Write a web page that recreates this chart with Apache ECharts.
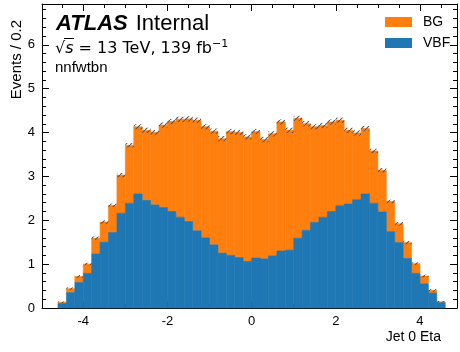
<!DOCTYPE html>
<html>
<head>
<meta charset="utf-8">
<script src="https://cdn.jsdelivr.net/npm/echarts@6/dist/echarts.min.js"></script>
<style>
  html, body { margin: 0; padding: 0; background: #fff; }
  #chart { width: 460px; height: 352px; }
</style>
</head>
<body>
<div id="chart"></div>
<script>
// bin lower edges in eta, each bin 0.2 wide
const binLow = [-4.6, -4.4, -4.2, -4.0, -3.8, -3.6, -3.4, -3.2, -3.0, -2.8,
                -2.6, -2.4, -2.2, -2.0, -1.8, -1.6, -1.4, -1.2, -1.0, -0.8,
                -0.6, -0.4, -0.2, 0.0, 0.2, 0.4, 0.6, 0.8, 1.0, 1.2,
                1.4, 1.6, 1.8, 2.0, 2.2, 2.4, 2.6, 2.8, 3.0, 3.2,
                3.4, 3.6, 3.8, 4.0, 4.2, 4.4];
const binWidth = 0.2;

const vbf = [0.10, 0.35, 0.58, 0.79, 1.23, 1.50, 1.72, 2.16, 2.39, 2.60,
             2.45, 2.35, 2.29, 2.20, 2.07, 1.97, 1.76, 1.60, 1.44, 1.25,
             1.20, 1.15, 1.06, 1.14, 1.12, 1.19, 1.30, 1.32, 1.59, 1.77,
             1.95, 2.07, 2.20, 2.33, 2.37, 2.47, 2.60, 2.39, 2.19, 1.74,
             1.49, 1.13, 0.79, 0.55, 0.34, 0.12];

const bg = [0.03, 0.09, 0.14, 0.21, 0.36, 0.46, 0.62, 0.87, 1.32, 1.53,
            1.60, 1.65, 1.88, 2.05, 2.23, 2.34, 2.52, 2.53, 2.59, 2.61,
            2.82, 2.85, 2.84, 2.88, 2.72, 2.78, 2.94, 2.73, 2.73, 2.43,
            2.18, 2.09, 2.04, 1.95, 1.68, 1.52, 1.49, 1.19, 0.95, 0.69,
            0.43, 0.36, 0.22, 0.18, 0.06, 0.02];

// stat. uncertainty on the stack (half height of hatched band)
const statErr = [0.02, 0.03, 0.03, 0.03, 0.04, 0.04, 0.04, 0.05, 0.05, 0.06,
                 0.06, 0.06, 0.06, 0.06, 0.06, 0.06, 0.06, 0.06, 0.06, 0.06,
                 0.06, 0.06, 0.06, 0.06, 0.06, 0.06, 0.06, 0.06, 0.06, 0.06,
                 0.06, 0.06, 0.06, 0.06, 0.06, 0.06, 0.06, 0.05, 0.05, 0.04,
                 0.04, 0.04, 0.03, 0.03, 0.03, 0.02];

const xMajorTicks = [-4, -2, 0, 2, 4];
const xMinorTicks = [-4.5, -3.5, -3, -2.5, -1.5, -1, -0.5, 0.5, 1, 1.5, 2.5, 3, 3.5, 4.5];

const xMin = -4.98, xMax = 4.88;
const yMin = 0, yMax = 6.93;

const colBG = '#ff7f0e';
const colVBF = '#1f77b4';
const FONT = '"Liberation Sans", Arial, sans-serif';
const MATH = '"DejaVu Sans", sans-serif';

let chart = echarts.init(document.getElementById('chart'));

// hatch tile for the uncertainty band
let hatch = document.createElement('canvas');
hatch.width = 5; hatch.height = 5;
let hctx = hatch.getContext('2d');
hctx.strokeStyle = '#555';
hctx.lineWidth = 1.1;
hctx.beginPath();
hctx.moveTo(-1, 6); hctx.lineTo(6, -1);
hctx.stroke();

let vbfData = [], bgData = [], errData = [];
binLow.forEach(function (lo, i) {
    let hi = lo + binWidth;
    let top = vbf[i] + bg[i];
    vbfData.push([lo, hi, 0, vbf[i]]);
    bgData.push([lo, hi, vbf[i], top]);
    errData.push([lo, hi, top - statErr[i], top + statErr[i]]);
});

let boxRenderer = function (fill, stroke) {
    return function (params, api) {
        let p0 = api.coord([api.value(0), api.value(3)]);
        let p1 = api.coord([api.value(1), api.value(2)]);
        return {
            type: 'rect',
            shape: { x: p0[0], y: p0[1], width: p1[0] - p0[0], height: p1[1] - p0[1] },
            style: { fill: fill, stroke: stroke, lineWidth: stroke ? 0.6 : 0 }
        };
    };
};

let tickStyle = { color: '#000', width: 1 };

let xAxisBase = {
    type: 'value', min: xMin, max: xMax,
    splitLine: { show: false },
    axisLine: { onZero: false, lineStyle: tickStyle }
};

let yAxisBase = {
    type: 'value', min: yMin, max: yMax, interval: 1,
    splitLine: { show: false },
    axisLine: { show: true, onZero: false, lineStyle: tickStyle },
    axisTick: { inside: true, length: 7, lineStyle: tickStyle },
    minorTick: { show: true, splitNumber: 5, length: 4, lineStyle: tickStyle }
};

let option = {
    animation: false,
    backgroundColor: '#fff',
    grid: { left: 42, right: 3, top: 4, bottom: 44 },
    legend: {
        orient: 'vertical',
        left: 385, top: 15, padding: 0,
        itemWidth: 27, itemHeight: 10, itemGap: 7,
        icon: 'rect',
        data: ['BG', 'VBF'],
        textStyle: { fontFamily: FONT, fontSize: 14, color: '#000', lineHeight: 14, padding: [0, 0, 0, 6] }
    },
    xAxis: [
        Object.assign({}, xAxisBase, {
            position: 'bottom',
            axisTick: { inside: true, length: 7, customValues: xMajorTicks, lineStyle: tickStyle },
            axisLabel: { customValues: xMajorTicks, margin: 7, fontFamily: FONT, fontSize: 13, color: '#000' }
        }),
        Object.assign({}, xAxisBase, {
            position: 'bottom',
            axisLine: { show: false, onZero: false },
            axisTick: { inside: true, length: 4, customValues: xMinorTicks, lineStyle: tickStyle },
            axisLabel: { show: false }
        }),
        Object.assign({}, xAxisBase, {
            position: 'top',
            axisTick: { inside: true, length: 7, customValues: xMajorTicks, lineStyle: tickStyle },
            axisLabel: { show: false }
        }),
        Object.assign({}, xAxisBase, {
            position: 'top',
            axisLine: { show: false, onZero: false },
            axisTick: { inside: true, length: 4, customValues: xMinorTicks, lineStyle: tickStyle },
            axisLabel: { show: false }
        })
    ],
    yAxis: [
        Object.assign({}, yAxisBase, {
            position: 'left',
            axisLabel: { margin: 7, showMaxLabel: false, fontFamily: FONT, fontSize: 13, color: '#000' }
        }),
        Object.assign({}, yAxisBase, {
            position: 'right',
            axisLabel: { show: false }
        })
    ],
    series: [
        {
            name: 'BG', type: 'custom', xAxisIndex: 0, yAxisIndex: 0,
            itemStyle: { color: colBG },
            encode: { x: [0, 1], y: [2, 3] },
            renderItem: boxRenderer(colBG, colBG),
            data: bgData
        },
        {
            name: 'VBF', type: 'custom', xAxisIndex: 0, yAxisIndex: 0,
            itemStyle: { color: colVBF },
            encode: { x: [0, 1], y: [2, 3] },
            renderItem: boxRenderer(colVBF, colVBF),
            data: vbfData
        },
        {
            name: 'stat', type: 'custom', xAxisIndex: 0, yAxisIndex: 0, z: 5,
            encode: { x: [0, 1], y: [2, 3] },
            renderItem: boxRenderer({ image: hatch, repeat: 'repeat' }, null),
            data: errData
        }
    ],
    graphic: [
        {
            type: 'text', left: 56, top: 13,
            style: {
                text: '{a|ATLAS}{b|Internal}',
                rich: {
                    a: { fontFamily: FONT, fontSize: 22, fontWeight: 'bold', fontStyle: 'italic', fill: '#000' },
                    b: { fontFamily: FONT, fontSize: 22, fill: '#000', padding: [0, 0, 0, 8] }
                }
            }
        },
        {
            type: 'text', left: 55, top: 39,
            style: {
                text: '{r|√}{s|s} = 13 TeV, 139 fb{u|−1}',
                fontFamily: MATH, fontSize: 16, fill: '#000',
                rich: {
                    r: { fontFamily: MATH, fontSize: 16 },
                    s: { fontFamily: MATH, fontSize: 16, fontStyle: 'italic' },
                    u: { fontFamily: MATH, fontSize: 11, verticalAlign: 'top', padding: [0, 0, 8, 0] }
                }
            }
        },
        {
            type: 'line',
            shape: { x1: 64, y1: 38.5, x2: 74, y2: 38.5 },
            style: { stroke: '#000', lineWidth: 1 }
        },
        {
            type: 'text', left: 55, top: 60,
            style: { text: 'nnfwtbn', fontFamily: FONT, fontSize: 15, fill: '#000' }
        },
        {
            type: 'text', x: 17, y: 20, rotation: Math.PI / 2,
            style: { text: 'Events / 0.2', fontFamily: FONT, fontSize: 15, fill: '#000', align: 'right', verticalAlign: 'middle' }
        },
        {
            type: 'text', x: 441, y: 337,
            style: { text: 'Jet 0 Eta', fontFamily: FONT, fontSize: 14, fill: '#000', align: 'right', verticalAlign: 'middle' }
        }
    ]
};

chart.setOption(option);
</script>
</body>
</html>
